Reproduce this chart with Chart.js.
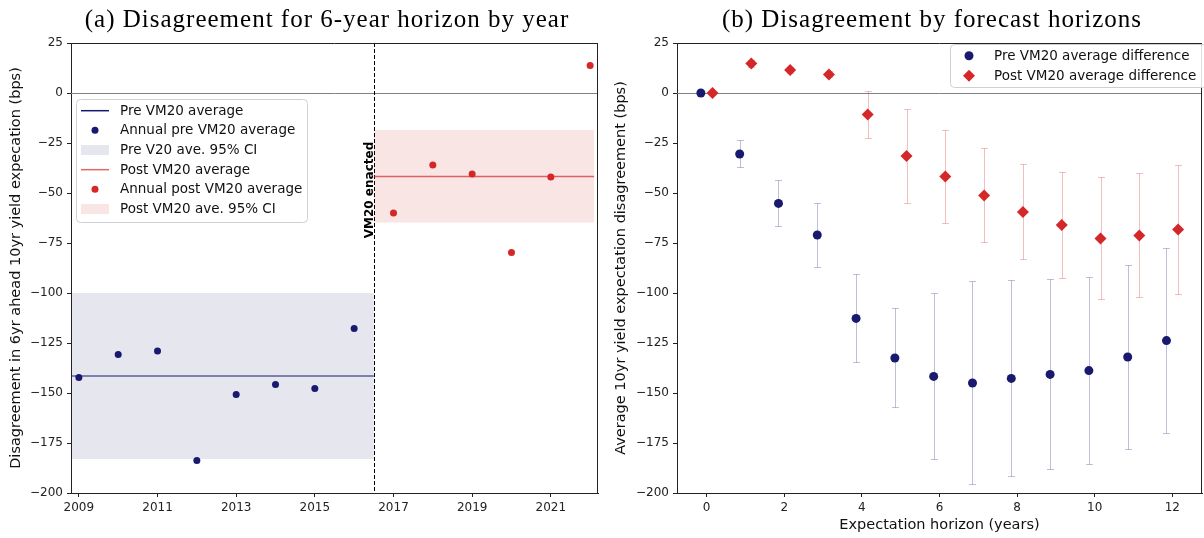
<!DOCTYPE html>
<html>
<head>
<meta charset="utf-8">
<script src="https://cdn.jsdelivr.net/npm/chart.js@4/dist/chart.umd.min.js"></script>
<style>
  html, body { margin: 0; padding: 0; background: #fff; overflow: hidden; width: 1204px; height: 538px; }
  #panelA { position: absolute; left: 0; top: 0; }
  #panelB { position: absolute; left: 602px; top: 0; }
</style>
</head>
<body>
<canvas id="panelA" width="602" height="538"></canvas>
<canvas id="panelB" width="606" height="538"></canvas>
<script>
// ---------- Panel (a): 6-year horizon disagreement by year ----------
const preYears = [2009, 2010, 2011, 2012, 2013, 2014, 2015, 2016];
const preAnnual = [-142.2, -130.8, -129.0, -183.7, -150.7, -145.8, -147.7, -117.7];
const postYears = [2017, 2018, 2019, 2020, 2021, 2022];
const postAnnual = [-60.0, -36.0, -40.5, -79.7, -42.0, 13.7];
const preAverage = -141.5;
const preCI = [-183.0, -100.0];
const postAverage = -41.8;
const postCI = [-64.8, -18.5];
const vm20Year = 2016.5;
const yearRange = [2008.8, 2022.2];
const postSpanEnd = 2022.1;
const yearTicks = [2009, 2011, 2013, 2015, 2017, 2019, 2021];
const bpsRange = [-200, 25];
const bpsStep = 25;

// ---------- Panel (b): disagreement by forecast horizon ----------
const horizons = [0, 1, 2, 3, 4, 5, 6, 7, 8, 9, 10, 11, 12];
const horizonOffset = 0.15;
const preHorizonMean = [0, -30.5, -55.2, -71.0, -112.7, -132.5, -141.7, -145.0, -142.7, -140.7, -138.8, -132.0, -123.8];
const preHorizonLow  = [0, -36.8, -66.7, -87.2, -134.7, -157.2, -183.2, -195.5, -191.3, -188.0, -185.5, -177.8, -170.2];
const preHorizonHigh = [0, -23.7, -43.7, -55.0, -90.3, -107.5, -100.0, -94.2, -93.5, -92.8, -92.2, -86.0, -77.7];
const postHorizonMean = [0, 14.7, 11.5, 9.3, -10.8, -31.5, -41.8, -51.2, -59.5, -66.0, -72.7, -71.2, -68.2];
const postHorizonLow  = [0, 13.0, 10.0, 8.0, -22.3, -54.8, -65.2, -74.7, -83.2, -92.5, -103.2, -102.0, -100.3];
const postHorizonHigh = [0, 16.5, 13.0, 10.8, 0.8, -7.8, -18.3, -27.7, -35.5, -39.3, -42.0, -40.2, -36.2];
const horizonRange = [-0.765, 12.765];
const horizonTicks = [0, 2, 4, 6, 8, 10, 12];

const NAVY = '#191970';
const RED = '#d62728';
const AXIS = '#222222';
const TICK_FONT = { family: 'DejaVu Sans', size: 12 };
const LABEL_FONT = { family: 'DejaVu Sans', size: 14.5 };
const LEGEND_FONT = '13.5px "DejaVu Sans"';
const TITLE_FONT = '25px "Liberation Serif"';
const minusSign = v => String(v).replace('-', '\u2212');

// full box around the plotting area, plus the zero reference line
const frame = {
  id: 'frame',
  beforeDatasetsDraw(chart) {
    const { ctx, chartArea: a, scales: { y } } = chart;
    const y0 = Math.round(y.getPixelForValue(0)) + 0.5;
    ctx.save();
    ctx.strokeStyle = '#808080';
    ctx.lineWidth = 1;
    ctx.beginPath(); ctx.moveTo(a.left, y0); ctx.lineTo(a.right, y0); ctx.stroke();
    ctx.restore();
  },
  afterDraw(chart) {
    const { ctx, chartArea: a } = chart;
    ctx.save();
    ctx.strokeStyle = AXIS;
    ctx.lineWidth = 1;
    ctx.beginPath();
    ctx.moveTo(a.left, a.top + 0.5); ctx.lineTo(a.right, a.top + 0.5);
    ctx.moveTo(a.right - 0.5, a.top); ctx.lineTo(a.right - 0.5, a.bottom);
    ctx.stroke();
    ctx.restore();
  }
};

const titlePlugin = {
  id: 'panelTitle',
  afterDraw(chart, args, opts) {
    const { ctx } = chart;
    ctx.save();
    ctx.fillStyle = '#000';
    ctx.font = TITLE_FONT;
    ctx.letterSpacing = '1px';
    ctx.textAlign = 'center';
    ctx.textBaseline = 'alphabetic';
    ctx.fillText(opts.text, opts.x, opts.y);
    ctx.restore();
  }
};

function drawLegend(ctx, o) {
  ctx.save();
  const r = 4, b = o.box;
  ctx.beginPath();
  ctx.roundRect(b.x + 0.5, b.y + 0.5, b.w, b.h, r);
  ctx.fillStyle = 'rgba(255,255,255,0.85)';
  ctx.fill();
  ctx.strokeStyle = '#d0d0d0';
  ctx.lineWidth = 1;
  ctx.stroke();
  ctx.font = LEGEND_FONT;
  ctx.textBaseline = 'middle';
  ctx.textAlign = 'left';
  o.items.forEach((it, i) => {
    const cy = o.firstRow + i * o.rowStep;
    const hx = o.handleX;
    ctx.fillStyle = it.color;
    ctx.strokeStyle = it.color;
    if (it.kind === 'line') {
      ctx.lineWidth = 1.5;
      ctx.beginPath(); ctx.moveTo(hx, cy); ctx.lineTo(hx + o.handleW, cy); ctx.stroke();
    } else if (it.kind === 'patch') {
      ctx.fillRect(hx, cy - 5, o.handleW, 10);
    } else if (it.kind === 'circle') {
      ctx.beginPath(); ctx.arc(hx + o.handleW / 2, cy, it.r, 0, Math.PI * 2); ctx.fill();
    } else if (it.kind === 'diamond') {
      const cx = hx + o.handleW / 2, s = it.r;
      ctx.beginPath();
      ctx.moveTo(cx, cy - s); ctx.lineTo(cx + s, cy); ctx.lineTo(cx, cy + s); ctx.lineTo(cx - s, cy);
      ctx.closePath(); ctx.fill();
    }
    ctx.fillStyle = '#111';
    ctx.fillText(it.label, o.textX, cy + 0.5);
  });
  ctx.restore();
}

const legendPlugin = {
  id: 'insetLegend',
  afterDraw(chart, args, opts) { drawLegend(chart.ctx, opts); }
};

// shaded confidence spans and the enactment marker for panel (a)
const spans = {
  id: 'spans',
  beforeDatasetsDraw(chart, args, opts) {
    const { ctx, scales: { x, y }, chartArea: a } = chart;
    ctx.save();
    opts.bands.forEach(bd => {
      const x1 = x.getPixelForValue(bd.from), x2 = x.getPixelForValue(bd.to);
      const y1 = y.getPixelForValue(bd.hi), y2 = y.getPixelForValue(bd.lo);
      ctx.fillStyle = bd.color;
      ctx.fillRect(x1, y1, x2 - x1, y2 - y1);
    });
    const vx = Math.round(x.getPixelForValue(opts.marker)) + 0.5;
    ctx.strokeStyle = '#000';
    ctx.lineWidth = 1;
    ctx.setLineDash([4, 2]);
    ctx.beginPath(); ctx.moveTo(vx, a.top); ctx.lineTo(vx, a.bottom); ctx.stroke();
    ctx.setLineDash([]);
    ctx.translate(vx + 1, y.getPixelForValue(opts.markerLabelAt));
    ctx.rotate(-Math.PI / 2);
    ctx.fillStyle = '#000';
    ctx.font = 'bold 12px "DejaVu Sans"';
    ctx.textAlign = 'center';
    ctx.textBaseline = 'bottom';
    ctx.fillText(opts.markerLabel, 0, 0);
    ctx.restore();
  }
};

// vertical confidence whiskers for panel (b)
const whiskers = {
  id: 'whiskers',
  beforeDatasetsDraw(chart) {
    const { ctx, scales: { x, y } } = chart;
    ctx.save();
    ctx.lineWidth = 1;
    chart.data.datasets.forEach(ds => {
      if (!ds.errLow) return;
      ctx.strokeStyle = ds.errColor;
      ds.data.forEach((p, j) => {
        const px = Math.round(x.getPixelForValue(p.x)) + 0.5;
        const y1 = Math.round(y.getPixelForValue(ds.errLow[j])) + 0.5;
        const y2 = Math.round(y.getPixelForValue(ds.errHigh[j])) + 0.5;
        ctx.beginPath();
        ctx.moveTo(px, y1); ctx.lineTo(px, y2);
        ctx.moveTo(px - 3.5, y1); ctx.lineTo(px + 3.5, y1);
        ctx.moveTo(px - 3.5, y2); ctx.lineTo(px + 3.5, y2);
        ctx.stroke();
      });
    });
    ctx.restore();
  }
};

function yAxis(titleText, width, titlePad) {
  return {
    type: 'linear', min: bpsRange[0], max: bpsRange[1],
    afterFit: s => { s.width = width; },
    ticks: { stepSize: bpsStep, color: AXIS, font: TICK_FONT, padding: 4, callback: minusSign },
    grid: { display: true, drawOnChartArea: false, drawTicks: true, tickLength: 4, color: AXIS },
    border: { display: true, color: AXIS, width: 1 },
    title: { display: true, text: titleText, color: '#111', font: LABEL_FONT, padding: { top: titlePad, bottom: 0 } }
  };
}

function xAxis(range, tickValues, titleText) {
  return {
    type: 'linear', min: range[0], max: range[1],
    afterFit: s => { s.height = 45; },
    afterBuildTicks: s => { s.ticks = tickValues.map(v => ({ value: v })); },
    ticks: { color: AXIS, font: TICK_FONT, padding: 4, autoSkip: false, maxRotation: 0,
             callback: v => String(v) },
    grid: { display: true, drawOnChartArea: false, drawTicks: true, tickLength: 4, color: AXIS },
    border: { display: true, color: AXIS, width: 1 },
    title: { display: !!titleText, text: titleText || '', color: '#111', font: LABEL_FONT, padding: { top: 0, bottom: 4 } }
  };
}

Chart.defaults.font.family = 'DejaVu Sans';

new Chart(document.getElementById('panelA'), {
  type: 'scatter',
  data: {
    datasets: [
      { type: 'line', label: 'Pre VM20 average',
        data: [{ x: yearRange[0], y: preAverage }, { x: vm20Year, y: preAverage }],
        borderColor: NAVY, borderWidth: 1, pointRadius: 0 },
      { label: 'Annual pre VM20 average',
        data: preYears.map((yr, i) => ({ x: yr, y: preAnnual[i] })),
        backgroundColor: NAVY, borderWidth: 0, pointRadius: 3.5 },
      { type: 'line', label: 'Post VM20 average',
        data: [{ x: vm20Year, y: postAverage }, { x: postSpanEnd, y: postAverage }],
        borderColor: 'rgba(214,39,40,0.7)', borderWidth: 1.5, pointRadius: 0 },
      { label: 'Annual post VM20 average',
        data: postYears.map((yr, i) => ({ x: yr, y: postAnnual[i] })),
        backgroundColor: RED, borderWidth: 0, pointRadius: 3.5 }
    ]
  },
  options: {
    responsive: false, animation: false, devicePixelRatio: 1,
    layout: { padding: { top: 43, right: 1.5, left: 0, bottom: 0 } },
    scales: {
      x: xAxis(yearRange, yearTicks, ''),
      y: yAxis('Disagreement in 6yr ahead 10yr yield expecation (bps)', 71, 8)
    },
    plugins: {
      legend: { display: false }, tooltip: { enabled: false }, title: { display: false },
      spans: {
        bands: [
          { from: yearRange[0], to: vm20Year, lo: preCI[0], hi: preCI[1], color: 'rgba(25,25,112,0.11)' },
          { from: vm20Year, to: postSpanEnd, lo: postCI[0], hi: postCI[1], color: 'rgba(214,39,40,0.12)' }
        ],
        marker: vm20Year, markerLabel: 'VM20 enacted', markerLabelAt: -48.5
      },
      panelTitle: { text: '(a) Disagreement for 6-year horizon by year', x: 327, y: 27 },
      insetLegend: {
        box: { x: 76, y: 99, w: 231, h: 123 },
        firstRow: 110.7, rowStep: 19.66, handleX: 81, handleW: 28, textX: 120,
        items: [
          { kind: 'line', color: NAVY, label: 'Pre VM20 average' },
          { kind: 'circle', color: NAVY, r: 3.5, label: 'Annual pre VM20 average' },
          { kind: 'patch', color: 'rgba(25,25,112,0.11)', label: 'Pre V20 ave. 95% CI' },
          { kind: 'line', color: 'rgba(214,39,40,0.7)', label: 'Post VM20 average' },
          { kind: 'circle', color: RED, r: 3.5, label: 'Annual post VM20 average' },
          { kind: 'patch', color: 'rgba(214,39,40,0.12)', label: 'Post VM20 ave. 95% CI' }
        ]
      }
    }
  },
  plugins: [frame, spans, titlePlugin, legendPlugin]
});

new Chart(document.getElementById('panelB'), {
  type: 'scatter',
  data: {
    datasets: [
      { label: 'Pre VM20 average difference',
        data: horizons.map((h, i) => ({ x: h - horizonOffset, y: preHorizonMean[i] })),
        errLow: preHorizonLow, errHigh: preHorizonHigh, errColor: 'rgba(25,25,112,0.28)',
        backgroundColor: NAVY, borderWidth: 0, pointRadius: 4.5 },
      { label: 'Post VM20 average difference',
        data: horizons.map((h, i) => ({ x: h + horizonOffset, y: postHorizonMean[i] })),
        errLow: postHorizonLow, errHigh: postHorizonHigh, errColor: 'rgba(214,39,40,0.3)',
        backgroundColor: RED, borderWidth: 0, pointStyle: 'rectRot', pointRadius: 6 }
    ]
  },
  options: {
    responsive: false, animation: false, devicePixelRatio: 1,
    layout: { padding: { top: 43, right: 2, left: 0, bottom: 0 } },
    scales: {
      x: xAxis(horizonRange, horizonTicks, 'Expectation horizon (years)'),
      y: yAxis('Average 10yr yield expectation disagreement (bps)', 75, 11)
    },
    plugins: {
      legend: { display: false }, tooltip: { enabled: false }, title: { display: false },
      panelTitle: { text: '(b) Disagreement by forecast horizons', x: 330, y: 27 },
      insetLegend: {
        box: { x: 348, y: 44, w: 256, h: 43 },
        firstRow: 55.7, rowStep: 20, handleX: 353, handleW: 28, textX: 392,
        items: [
          { kind: 'circle', color: NAVY, r: 4.5, label: 'Pre VM20 average difference' },
          { kind: 'diamond', color: RED, r: 6, label: 'Post VM20 average difference' }
        ]
      }
    }
  },
  plugins: [frame, whiskers, titlePlugin, legendPlugin]
});
</script>
</body>
</html>
